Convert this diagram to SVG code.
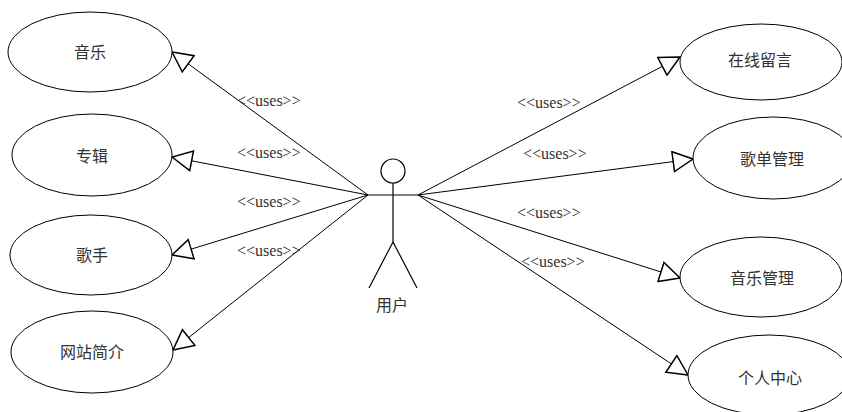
<svg xmlns="http://www.w3.org/2000/svg" width="842" height="412" viewBox="0 0 842 412">
<style>
.uc{fill:#fff;stroke:#000;stroke-width:1}
.ut{font-family:"Noto Sans CJK SC","Noto Sans",sans-serif;font-size:16px;fill:#333;text-anchor:middle}
.lbl{font-family:"Liberation Serif","Times New Roman",serif;font-size:16px;fill:#333}
.conn{stroke:#000;stroke-width:1;fill:none;marker-end:url(#tri)}
.actor{stroke:#000;stroke-width:1.2;fill:#fff}
</style>
<defs>
<marker id="tri" viewBox="0 0 22 22" markerUnits="userSpaceOnUse" markerWidth="22" markerHeight="22" refX="21" refY="11" orient="auto">
<path d="M21,11 L1,1 L1,21 Z" fill="#fff" stroke="#000" stroke-width="1.5"/>
</marker>
</defs>
<rect width="842" height="412" fill="#fff"/>
<g id="connectors">
<line class="conn" x1="368" y1="195" x2="172" y2="52"/>
<line class="conn" x1="368" y1="195" x2="172" y2="157"/>
<line class="conn" x1="368" y1="195" x2="172" y2="255"/>
<line class="conn" x1="368" y1="195" x2="173" y2="350"/>
<line class="conn" x1="418" y1="195" x2="680" y2="57"/>
<line class="conn" x1="418" y1="195" x2="693" y2="159"/>
<line class="conn" x1="418" y1="195" x2="680" y2="278"/>
<line class="conn" x1="418" y1="195" x2="688" y2="375"/>
<text class="lbl" x="237" y="106">&lt;&lt;uses&gt;&gt;</text>
<text class="lbl" x="237" y="158">&lt;&lt;uses&gt;&gt;</text>
<text class="lbl" x="237" y="207">&lt;&lt;uses&gt;&gt;</text>
<text class="lbl" x="237" y="256">&lt;&lt;uses&gt;&gt;</text>
<text class="lbl" x="517" y="108">&lt;&lt;uses&gt;&gt;</text>
<text class="lbl" x="523" y="159">&lt;&lt;uses&gt;&gt;</text>
<text class="lbl" x="517" y="218">&lt;&lt;uses&gt;&gt;</text>
<text class="lbl" x="521" y="267">&lt;&lt;uses&gt;&gt;</text>
</g>
<g id="uc-music"><ellipse class="uc" cx="90" cy="52" rx="82" ry="40"/><text class="ut" x="90" y="58">音乐</text></g>
<g id="uc-album"><ellipse class="uc" cx="92" cy="155" rx="80" ry="41"/><text class="ut" x="92" y="162">专辑</text></g>
<g id="uc-singer"><ellipse class="uc" cx="91" cy="255" rx="81" ry="40"/><text class="ut" x="92" y="261">歌手</text></g>
<g id="uc-intro"><ellipse class="uc" cx="92" cy="352" rx="81" ry="41"/><text class="ut" x="92" y="358">网站简介</text></g>
<g id="uc-message"><ellipse class="uc" cx="761" cy="62" rx="81" ry="38"/><text class="ut" x="760" y="66">在线留言</text></g>
<g id="uc-playlist"><ellipse class="uc" cx="773" cy="158" rx="80" ry="41"/><text class="ut" x="772" y="165">歌单管理</text></g>
<g id="uc-musicmgr"><ellipse class="uc" cx="761" cy="277" rx="81" ry="40"/><text class="ut" x="762" y="284">音乐管理</text></g>
<g id="uc-personal"><ellipse class="uc" cx="769" cy="375" rx="81" ry="40"/><text class="ut" x="770" y="384">个人中心</text></g>
<g id="actor-user">
<circle class="actor" cx="393" cy="171" r="12"/>
<line class="actor" x1="393" y1="183" x2="393" y2="242"/>
<line class="actor" x1="368" y1="195" x2="418" y2="195"/>
<line class="actor" x1="393" y1="242" x2="369" y2="288"/>
<line class="actor" x1="393" y1="242" x2="417" y2="288"/>
<text class="ut" x="392" y="311">用户</text>
</g>
</svg>
